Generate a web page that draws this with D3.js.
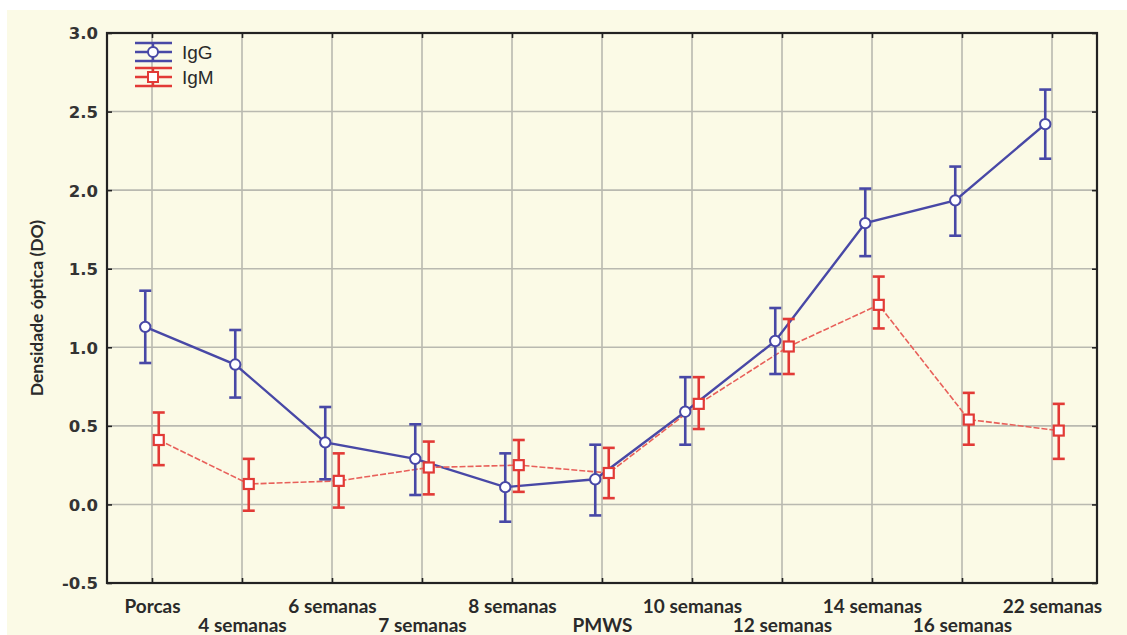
<!DOCTYPE html>
<html>
<head>
<meta charset="utf-8">
<script src="https://cdn.jsdelivr.net/npm/d3@7"></script>
<style>
  body { margin: 0; background: #ffffff; }
  svg { display: block; }
</style>
</head>
<body>
<div id="chart"></div>
<script>
// categories along the x axis
var categories = ["Porcas", "4 semanas", "6 semanas", "7 semanas", "8 semanas", "PMWS",
                  "10 semanas", "12 semanas", "14 semanas", "16 semanas", "22 semanas"]

// IgG means and error bar ends
var iggMean = [1.13, 0.89, 0.395, 0.29, 0.11, 0.16, 0.59, 1.04, 1.79, 1.935, 2.42]
var iggLow  = [0.90, 0.68, 0.16, 0.06, -0.11, -0.07, 0.38, 0.83, 1.58, 1.71, 2.20]
var iggHigh = [1.36, 1.11, 0.62, 0.51, 0.325, 0.38, 0.81, 1.25, 2.01, 2.15, 2.64]

// IgM means and error bar ends
var igmMean = [0.41, 0.13, 0.15, 0.235, 0.25, 0.20, 0.64, 1.005, 1.27, 0.54, 0.47]
var igmLow  = [0.25, -0.04, -0.02, 0.064, 0.08, 0.04, 0.48, 0.83, 1.12, 0.38, 0.29]
var igmHigh = [0.585, 0.29, 0.325, 0.40, 0.41, 0.36, 0.81, 1.18, 1.45, 0.71, 0.64]

var yTicks = [-0.5, 0.0, 0.5, 1.0, 1.5, 2.0, 2.5, 3.0]

var screen = {width: 1127, height: 635}
var margins = {top: 33, bottom: 52, left: 107, right: 30}
var width = screen.width - margins.left - margins.right
var height = screen.height - margins.top - margins.bottom

var blue = "#4848a6"
var red = "#e23a36"

//scales
var xScale = d3.scaleLinear()
               .domain([-0.5, categories.length - 0.5])
               .range([0, width])

var yScale = d3.scaleLinear()
               .domain([-0.5, 3.0])
               .range([height, 0])

var svg = d3.select("#chart")
  .append("svg")
  .attr("width", screen.width)
  .attr("height", screen.height)

// cream page with a thin white strip top and left
svg.append("rect")
  .attr("x", 7).attr("y", 10)
  .attr("width", screen.width - 7).attr("height", screen.height - 10)
  .attr("fill", "#fbfae6")

var plot = svg.append("g")
  .attr("transform", "translate(" + margins.left + "," + margins.top + ")")

//grid
plot.append("g").selectAll("line")
  .data(categories)
  .enter().append("line")
  .attr("x1", function(d, i) { return xScale(i) })
  .attr("x2", function(d, i) { return xScale(i) })
  .attr("y1", 0).attr("y2", height)
  .attr("stroke", "#b9b9b0").attr("stroke-width", 1.6)

plot.append("g").selectAll("line")
  .data(yTicks.slice(1, -1))
  .enter().append("line")
  .attr("x1", 0).attr("x2", width)
  .attr("y1", function(d) { return yScale(d) })
  .attr("y2", function(d) { return yScale(d) })
  .attr("stroke", "#b9b9b0").attr("stroke-width", 1.6)

//axes
var yAxis = d3.axisLeft(yScale)
  .tickValues(yTicks)
  .tickFormat(function(d) { return d.toFixed(1) })   // plain hyphen for -0.5
  .tickSize(-5)
  .tickPadding(9)

var xAxis = d3.axisBottom(xScale)
  .tickValues(d3.range(categories.length))
  .tickFormat(function(d) { return categories[d] })
  .tickSize(-5)
  .tickPadding(10)

var yg = plot.append("g").call(yAxis)
yg.selectAll("text")
  .attr("font-family", "DejaVu Sans").attr("font-weight", "bold")
  .attr("font-size", "16.5px").attr("fill", "#333333")
  .attr("dy", "0.36em")

var xg = plot.append("g")
  .attr("transform", "translate(0," + height + ")")
  .call(xAxis)
xg.selectAll("text")
  .attr("font-family", "Lato").attr("font-weight", "bold")
  .attr("font-size", "19px").attr("fill", "#2a2a2a")
  .attr("y", function(d) { return d % 2 == 0 ? 17 : 36 })

plot.append("g").call(d3.axisTop(xScale).tickValues(d3.range(categories.length)).tickSize(-5).tickFormat(""))
plot.append("g").attr("transform", "translate(" + width + ",0)")
  .call(d3.axisRight(yScale).tickValues(yTicks).tickSize(-5).tickFormat(""))

plot.selectAll(".domain").remove()
plot.selectAll(".tick line").attr("stroke", "#222").attr("stroke-width", 1.6)

// frame
plot.append("rect")
  .attr("width", width).attr("height", height)
  .attr("fill", "none").attr("stroke", "#222").attr("stroke-width", 2.2)

// y title
svg.append("text")
  .attr("transform", "translate(37," + (margins.top + yScale(1.25)) + ") rotate(-90)")
  .attr("text-anchor", "middle")
  .attr("dy", "0.35em")
  .attr("font-family", "Lato").attr("font-weight", "bold")
  .attr("font-size", "17.5px").attr("fill", "#2a2a2a")
  .text("Densidade óptica (DO)")

// series
var offset = 0.075
var makeSeries = function(mean, low, high, shift) {
  return mean.map(function(m, i) { return {x: i + shift, m: m, lo: low[i], hi: high[i]} })
}
var iggData = makeSeries(iggMean, iggLow, iggHigh, -offset)
var igmData = makeSeries(igmMean, igmLow, igmHigh, offset)

var line = d3.line()
  .x(function(d) { return xScale(d.x) })
  .y(function(d) { return yScale(d.m) })

plot.append("path").datum(iggData)
  .attr("d", line).attr("fill", "none")
  .attr("stroke", blue).attr("stroke-width", 2.4)

plot.append("path").datum(igmData)
  .attr("d", line).attr("fill", "none")
  .attr("stroke", "#e8605a").attr("stroke-width", 1.6)
  .attr("stroke-dasharray", "6,2")

var drawBars = function(data, color) {
  var g = plot.append("g")
  g.selectAll("line.v").data(data).enter().append("line")
    .attr("x1", function(d) { return xScale(d.x) })
    .attr("x2", function(d) { return xScale(d.x) })
    .attr("y1", function(d) { return yScale(d.lo) })
    .attr("y2", function(d) { return yScale(d.hi) })
    .attr("stroke", color).attr("stroke-width", 2.6)
  ;["lo", "hi"].forEach(function(k) {
    g.selectAll("line." + k).data(data).enter().append("line")
      .attr("x1", function(d) { return xScale(d.x) - 6 })
      .attr("x2", function(d) { return xScale(d.x) + 6 })
      .attr("y1", function(d) { return yScale(d[k]) })
      .attr("y2", function(d) { return yScale(d[k]) })
      .attr("stroke", color).attr("stroke-width", 2.6)
  })
}
drawBars(iggData, blue)
drawBars(igmData, red)

plot.append("g").selectAll("circle")
  .data(iggData).enter().append("circle")
  .attr("cx", function(d) { return xScale(d.x) })
  .attr("cy", function(d) { return yScale(d.m) })
  .attr("r", 5.2)
  .attr("fill", "#ffffff").attr("stroke", blue).attr("stroke-width", 2)

plot.append("g").selectAll("rect")
  .data(igmData).enter().append("rect")
  .attr("x", function(d) { return xScale(d.x) - 5 })
  .attr("y", function(d) { return yScale(d.m) - 5 })
  .attr("width", 10).attr("height", 10)
  .attr("fill", "#ffffff").attr("stroke", red).attr("stroke-width", 2.2)

// legend
var legend = svg.append("g")
var legendItems = [
  {name: "IgG", color: blue, y: 52, shape: "circle"},
  {name: "IgM", color: red, y: 77, shape: "square"}
]
legendItems.forEach(function(it) {
  var cx = 153
  ;[-9, 0, 9].forEach(function(dy) {
    legend.append("line")
      .attr("x1", cx - 18).attr("x2", cx + 19)
      .attr("y1", it.y + dy).attr("y2", it.y + dy)
      .attr("stroke", it.color).attr("stroke-width", 2.4)
  })
  legend.append("line")
    .attr("x1", cx).attr("x2", cx)
    .attr("y1", it.y - 9).attr("y2", it.y + 9)
    .attr("stroke", it.color).attr("stroke-width", 2.4)
  if (it.shape == "circle") {
    legend.append("circle").attr("cx", cx).attr("cy", it.y).attr("r", 5)
      .attr("fill", "#fff").attr("stroke", it.color).attr("stroke-width", 2)
  } else {
    legend.append("rect").attr("x", cx - 5).attr("y", it.y - 5)
      .attr("width", 10).attr("height", 10)
      .attr("fill", "#fff").attr("stroke", it.color).attr("stroke-width", 2)
  }
  legend.append("text")
    .attr("x", 182).attr("y", it.y + 7)
    .attr("font-family", "Liberation Sans").attr("font-size", "19px")
    .attr("fill", "#2a2a2a")
    .text(it.name)
})
</script>
</body>
</html>
